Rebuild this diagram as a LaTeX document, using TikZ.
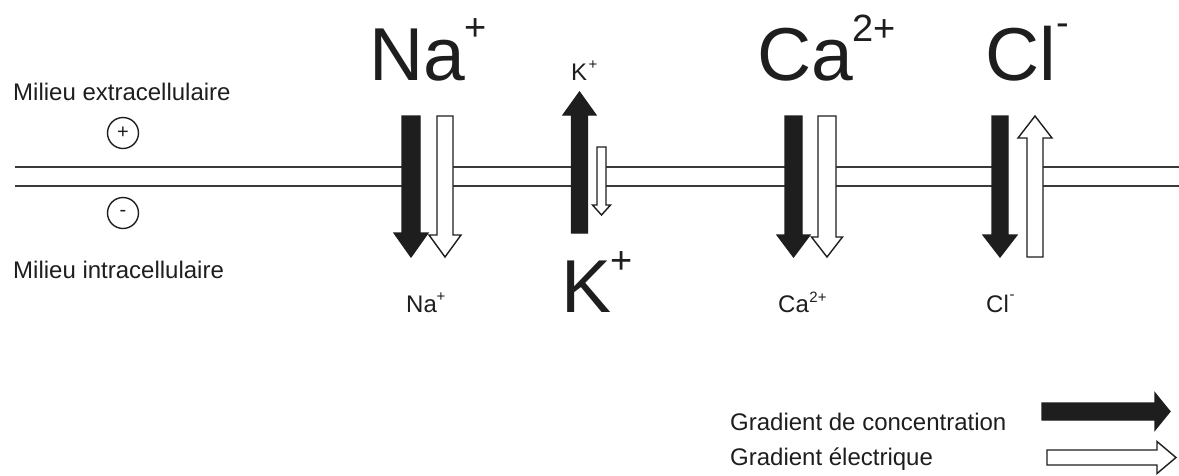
\documentclass[tikz,border=0pt]{standalone}
\usepackage{fontspec}
\setmainfont{Liberation Sans}
\definecolor{ink}{HTML}{1E1E1E}
\definecolor{memb}{HTML}{3A3A3A}
\newcommand\vgrad[7]{%
  \draw[#7] ({#1-#4},#2) -- ({#1+#4},#2) -- ({#1+#4},{#3-#6}) -- ({#1+#5},{#3-#6}) -- (#1,#3) -- ({#1-#5},{#3-#6}) -- ({#1-#4},{#3-#6}) -- cycle;}
\newcommand\hgrad[7]{%
  \draw[#7] (#2,{#1-#4}) -- (#2,{#1+#4}) -- ({#3-#6},{#1+#4}) -- ({#3-#6},{#1+#5}) -- (#3,#1) -- ({#3-#6},{#1-#5}) -- ({#3-#6},{#1-#4}) -- cycle;}
\tikzset{
  conc/.style={fill=ink, draw=ink, line width=1.2pt, line join=miter},
  elec/.style={fill=white, draw=ink, line width=1.4pt, line join=miter},
  membline/.style={draw=memb, line width=2pt},
  big/.style={font=\fontsize{75}{80}\selectfont, inner sep=0pt, anchor=base west, text=ink},
  bigsup/.style={font=\fontsize{38}{40}\selectfont, inner sep=0pt, anchor=center, text=ink},
  lab/.style={font=\fontsize{24}{28}\selectfont, inner sep=0pt, anchor=base west, text=ink},
  labsup/.style={font=\fontsize{15}{17}\selectfont, inner sep=0pt, anchor=center, text=ink},
  sign/.style={circle, draw=ink, line width=1.4pt, minimum size=31pt, inner sep=0pt, font=\fontsize{20}{22}\selectfont, text=ink}
}
\begin{document}
\begin{tikzpicture}[x=1pt, y=-1pt]
\useasboundingbox[fill=white] (0,0) rectangle (1179,475);
% membrane
\foreach \a/\b in {15/405, 450/575, 603/790, 830/995, 1040/1179}{
  \draw[membline] (\a,167) -- (\b,167);
  \draw[membline] (\a,186) -- (\b,186);
}
% arrows
\vgrad{411}{116}{257}{9}{17}{24}{conc}
\vgrad{445}{116}{257}{8}{16}{22}{elec}
\vgrad{579.5}{233}{92}{8}{16.5}{-23}{conc}
\vgrad{601.5}{147}{215}{4.5}{9}{10}{elec}
\vgrad{793.5}{116}{257}{8.5}{16.5}{22}{conc}
\vgrad{827}{116}{257}{9}{15.5}{20}{elec}
\vgrad{1000}{116}{257}{8}{17}{22}{conc}
\vgrad{1035}{257}{116}{8}{17}{-22}{elec}
% legend arrows
\hgrad{411.5}{1042}{1170}{8.5}{18.5}{15}{conc}
\hgrad{457.5}{1047}{1176}{7.5}{16}{19}{elec}
% side labels
\node[lab] (ext) at (13,100) {Milieu extracellulaire};
\node[lab] (int) at (13,278) {Milieu intracellulaire};
\node[sign] (plus) at (123,133) {+};
\node[sign] (minus) at (123,213) {-};
% big ion labels
\node[big] (naB) at (369,80) {Na};
\node[bigsup] (naBs) at (476,30) {+};
\node[big] (caB) at (757,80) {Ca};
\node[bigsup] (caBs) at (874,28) {2+};
\node[big] (clB) at (985,80) {Cl};
\node[bigsup] (clBs) at (1063,30) {-};
\node[big] (kB) at (561,312) {K};
\node[bigsup] (kBs) at (622,263) {+};
% small ion labels
\node[lab] (kS) at (571,80) {K};
\node[labsup] (kSs) at (593,65) {+};
\node[lab] (naS) at (406,312) {Na};
\node[labsup] (naSs) at (441,297) {+};
\node[lab] (caS) at (778,312) {Ca};
\node[labsup] (caSs) at (818,297) {2+};
\node[lab] (clS) at (986,312) {Cl};
\node[labsup] (clSs) at (1012,297) {-};
% legend
\node[lab] (lg1) at (730,430) {Gradient de concentration};
\node[lab] (lg2) at (730,465) {Gradient électrique};
\end{tikzpicture}
\end{document}
